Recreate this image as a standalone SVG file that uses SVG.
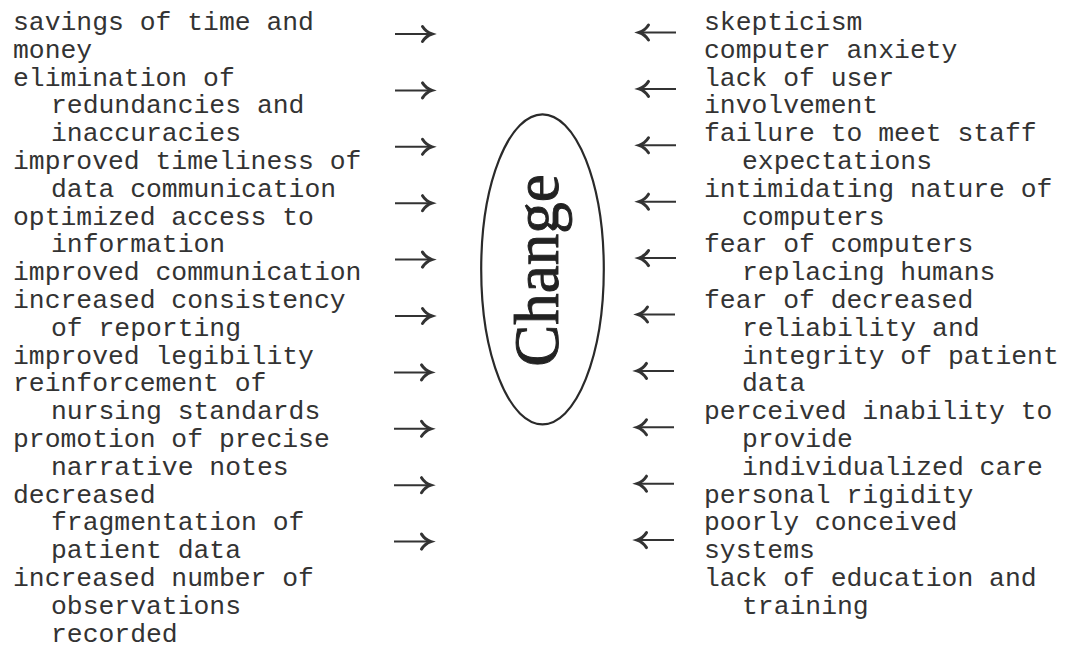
<svg xmlns="http://www.w3.org/2000/svg" width="1067" height="650" viewBox="0 0 1067 650">
<style>
.t{font-family:"Courier New","Liberation Mono",monospace;font-size:26.4px;fill:#333;}
.c{font-family:"Times New Roman","Liberation Serif",serif;font-size:63px;fill:#222;stroke:#222;stroke-width:0.9;text-anchor:middle;}
.ar{fill:none;stroke:#333;stroke-width:2;}
.ah{fill:none;stroke:#333;stroke-width:3;stroke-linejoin:miter;stroke-linecap:round;}
.el{fill:none;stroke:#2a2a2a;stroke-width:2.2;}
</style>
<defs>
<g id="arrow">
<path class="ar" d="M0,0 H36"/>
<path class="ah" d="M27.5,-7.5 Q31,-2 37,0 Q31,2 27.5,7.5"/>
</g>
</defs>
<rect width="1067" height="650" fill="#fff"/>
<g id="connectors">
<use href="#arrow" transform="translate(395,34)"/>
<use href="#arrow" transform="translate(395,90.4)"/>
<use href="#arrow" transform="translate(395,146.8)"/>
<use href="#arrow" transform="translate(395,203.2)"/>
<use href="#arrow" transform="translate(395,259.6)"/>
<use href="#arrow" transform="translate(395,316)"/>
<use href="#arrow" transform="translate(394,372.4)"/>
<use href="#arrow" transform="translate(394,428.8)"/>
<use href="#arrow" transform="translate(394,485.2)"/>
<use href="#arrow" transform="translate(394,541.6)"/>
<use href="#arrow" transform="translate(676,32.5) scale(-1,1)"/>
<use href="#arrow" transform="translate(676,88.9) scale(-1,1)"/>
<use href="#arrow" transform="translate(676,145.3) scale(-1,1)"/>
<use href="#arrow" transform="translate(676,201.7) scale(-1,1)"/>
<use href="#arrow" transform="translate(676,258.1) scale(-1,1)"/>
<use href="#arrow" transform="translate(675,314.5) scale(-1,1)"/>
<use href="#arrow" transform="translate(674,370.9) scale(-1,1)"/>
<use href="#arrow" transform="translate(674,427.3) scale(-1,1)"/>
<use href="#arrow" transform="translate(674,483.7) scale(-1,1)"/>
<use href="#arrow" transform="translate(674,540.1) scale(-1,1)"/>
</g>
<g id="change">
<ellipse class="el" cx="542.5" cy="269.3" rx="61.3" ry="155"/>
<text class="c" transform="translate(558,270.5) rotate(-90)" x="0" y="0">Change</text>
</g>
<g id="left-savings"><text class="t"><tspan x="13" y="30">savings of time and</tspan><tspan x="13" y="57.8">money</tspan></text></g>
<g id="left-elimination"><text class="t"><tspan x="13" y="85.6">elimination of</tspan><tspan x="51" y="113.4">redundancies and</tspan><tspan x="51" y="141.2">inaccuracies</tspan></text></g>
<g id="left-timeliness"><text class="t"><tspan x="13" y="169">improved timeliness of</tspan><tspan x="51" y="196.8">data communication</tspan></text></g>
<g id="left-access"><text class="t"><tspan x="13" y="224.6">optimized access to</tspan><tspan x="51" y="252.4">information</tspan></text></g>
<g id="left-communication"><text class="t"><tspan x="13" y="280.2">improved communication</tspan></text></g>
<g id="left-consistency"><text class="t"><tspan x="13" y="308">increased consistency</tspan><tspan x="51" y="335.8">of reporting</tspan></text></g>
<g id="left-legibility"><text class="t"><tspan x="13" y="363.6">improved legibility</tspan></text></g>
<g id="left-standards"><text class="t"><tspan x="13" y="391.4">reinforcement of</tspan><tspan x="51" y="419.2">nursing standards</tspan></text></g>
<g id="left-notes"><text class="t"><tspan x="13" y="447">promotion of precise</tspan><tspan x="51" y="474.8">narrative notes</tspan></text></g>
<g id="left-fragmentation"><text class="t"><tspan x="13" y="502.6">decreased</tspan><tspan x="51" y="530.4">fragmentation of</tspan><tspan x="51" y="558.2">patient data</tspan></text></g>
<g id="left-observations"><text class="t"><tspan x="13" y="586">increased number of</tspan><tspan x="51" y="613.8">observations</tspan><tspan x="51" y="641.6">recorded</tspan></text></g>
<g id="right-skepticism"><text class="t"><tspan x="704" y="30">skepticism</tspan></text></g>
<g id="right-anxiety"><text class="t"><tspan x="704" y="57.8">computer anxiety</tspan></text></g>
<g id="right-involvement"><text class="t"><tspan x="704" y="85.6">lack of user</tspan><tspan x="704" y="113.4">involvement</tspan></text></g>
<g id="right-expectations"><text class="t"><tspan x="704" y="141.2">failure to meet staff</tspan><tspan x="742" y="169">expectations</tspan></text></g>
<g id="right-intimidating"><text class="t"><tspan x="704" y="196.8">intimidating nature of</tspan><tspan x="742" y="224.6">computers</tspan></text></g>
<g id="right-replacing"><text class="t"><tspan x="704" y="252.4">fear of computers</tspan><tspan x="742" y="280.2">replacing humans</tspan></text></g>
<g id="right-reliability"><text class="t"><tspan x="704" y="308">fear of decreased</tspan><tspan x="742" y="335.8">reliability and</tspan><tspan x="742" y="363.6">integrity of patient</tspan><tspan x="742" y="391.4">data</tspan></text></g>
<g id="right-inability"><text class="t"><tspan x="704" y="419.2">perceived inability to</tspan><tspan x="742" y="447">provide</tspan><tspan x="742" y="474.8">individualized care</tspan></text></g>
<g id="right-rigidity"><text class="t"><tspan x="704" y="502.6">personal rigidity</tspan></text></g>
<g id="right-systems"><text class="t"><tspan x="704" y="530.4">poorly conceived</tspan><tspan x="704" y="558.2">systems</tspan></text></g>
<g id="right-education"><text class="t"><tspan x="704" y="586">lack of education and</tspan><tspan x="742" y="613.8">training</tspan></text></g>
</svg>
